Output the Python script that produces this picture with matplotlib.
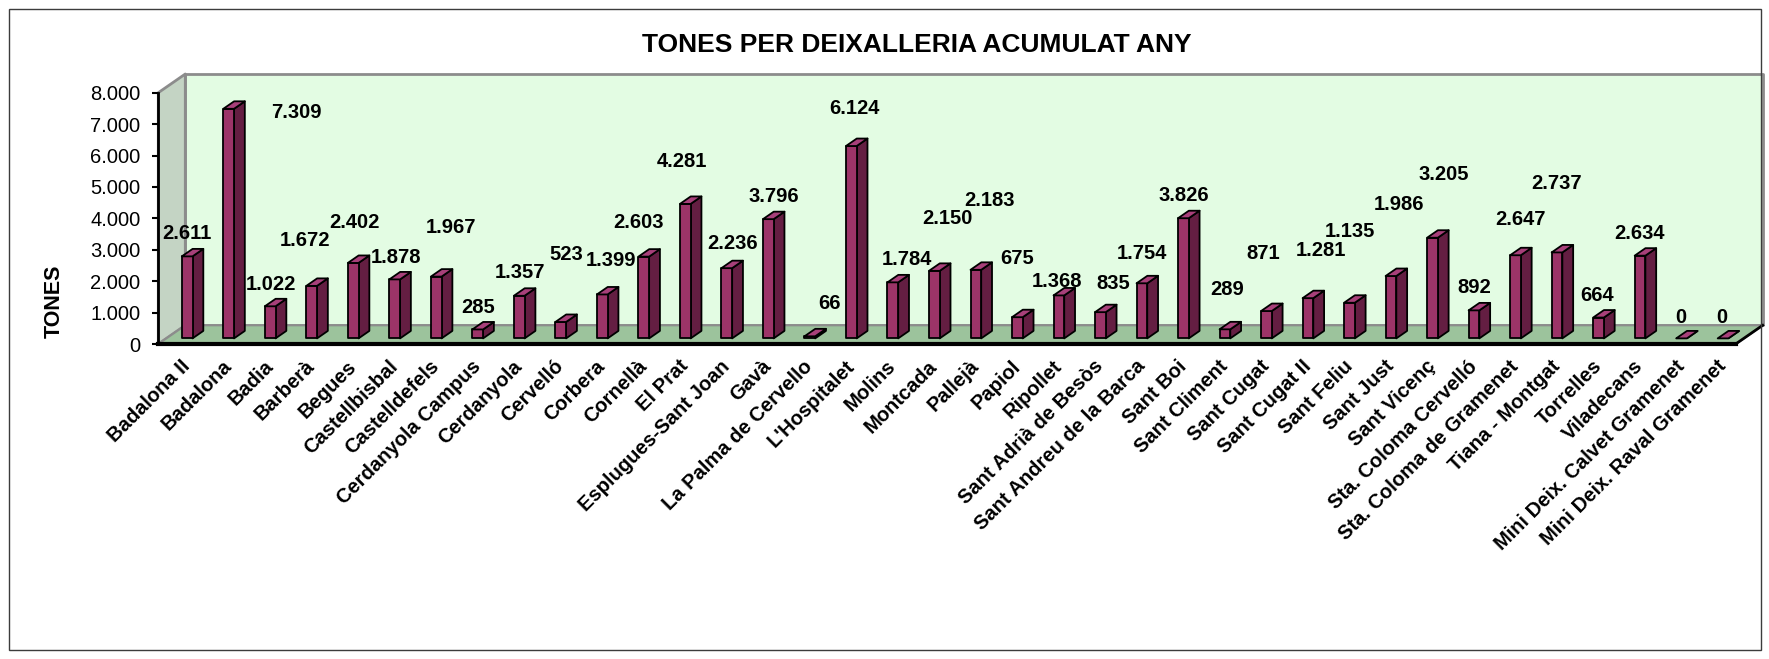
import matplotlib

matplotlib.use("Agg")
import matplotlib.pyplot as plt
from matplotlib.patches import Polygon, Rectangle
from matplotlib.ticker import FuncFormatter

plt.rcParams["font.family"] = ["Liberation Sans", "DejaVu Sans"]

centres = [
    "Badalona II", "Badalona", "Badia", "Barberà", "Begues", "Castellbisbal",
    "Castelldefels", "Cerdanyola Campus", "Cerdanyola", "Cervelló", "Corbera",
    "Cornellà", "El Prat", "Esplugues-Sant Joan", "Gavà", "La Palma de Cervello",
    "L'Hospitalet", "Molins", "Montcada", "Pallejà", "Papiol", "Ripollet",
    "Sant Adrià de Besòs", "Sant Andreu de la Barca", "Sant Boi", "Sant Climent",
    "Sant Cugat", "Sant Cugat II", "Sant Feliu", "Sant Just", "Sant Vicenç",
    "Sta. Coloma Cervelló", "Sta. Coloma de Gramenet", "Tiana - Montgat",
    "Torrelles", "Viladecans", "Mini Deix. Calvet Gramenet",
    "Mini Deix. Raval Gramenet",
]
tones = [
    2611, 7309, 1022, 1672, 2402, 1878, 1967, 285, 1357, 523, 1399, 2603,
    4281, 2236, 3796, 66, 6124, 1784, 2150, 2183, 675, 1368, 835, 1754,
    3826, 289, 871, 1281, 1135, 1986, 3205, 892, 2647, 2737, 664, 2634, 0, 0,
]
y_ticks = [0, 1000, 2000, 3000, 4000, 5000, 6000, 7000, 8000]

# nudges (pixels) of each value label from the top of its column
label_dx = [
    0, 68, 1, -7, 1, 1, 15, 0, 1, 6, 9, -5, -3, 6, 6, 20, 3, 14, 13,
    14, 0, -2, 13, 0, 0, 2, -3, 13, 0, 8, 11, 0, 5, 0, -1, -1, -1, -1,
]
label_dy = [
    23, -4, 22, 45, 40, 22, 49, 22, 23, 67, 34, 34, 42, 25, 23, 33, 38, 23,
    52, 69, 59, 14, 29, 30, 23, 40, 58, 48, 71, 72, 63, 23, 36, 69, 22, 22,
    21, 21,
]

W, H = 1769, 659
fig = plt.figure(figsize=(W / 100, H / 100), dpi=100)
fig.patch.set_facecolor("white")

n = len(centres)
ymax = y_ticks[-1]
ax = fig.add_axes([158.3 / W, (H - 344) / H, (1735.7 - 158.3) / W, (344 - 92.7) / H])
ax.set_xlim(-0.5, n - 0.5)
ax.set_ylim(0, ymax)
ax.patch.set_visible(False)

# depth of the 3-D box, converted from pixels to data units
KX = 27 / (ax.bbox.width / n)
KY = 18.7 / (ax.bbox.height / ymax)


def proj(x, y, z):
    return (x + z * KX, y + z * KY)


def face(pts, fc, ec, lw, z):
    ax.add_patch(Polygon(pts, closed=True, facecolor=fc, edgecolor=ec,
                         linewidth=lw, zorder=z, clip_on=False,
                         joinstyle="round"))


lo, hi = -0.5, n - 0.5
face([proj(lo, 0, 1), proj(hi, 0, 1), proj(hi, ymax, 1), proj(lo, ymax, 1)],
     "#e3fce3", "#8c8c8c", 2, 0.2)
face([proj(lo, 0, 0), proj(lo, 0, 1), proj(lo, ymax, 1), proj(lo, ymax, 0)],
     "#c4d4c4", "#8c8c8c", 2, 0.4)
face([proj(lo, 0, 0), proj(hi, 0, 0), proj(hi, 0, 1), proj(lo, 0, 1)],
     "#9cc39c", "#8c8c8c", 1.5, 0.6)
ax.plot(*zip(proj(hi, 0, 0), proj(hi, 0, 1)), color="black", lw=2,
        zorder=0.7, clip_on=False)

# columns sit in the middle of the depth
half, z0, z1 = 0.129, 0.3, 0.7
for i, v in enumerate(tones):
    x0, x1 = i - half, i + half
    face([proj(x1, 0, z0), proj(x1, 0, z1), proj(x1, v, z1), proj(x1, v, z0)],
         "#641e42", "black", 1.3, 3)
    face([proj(x0, 0, z0), proj(x1, 0, z0), proj(x1, v, z0), proj(x0, v, z0)],
         "#9c3468", "black", 1.3, 3.1)
    face([proj(x0, v, z0), proj(x1, v, z0), proj(x1, v, z1), proj(x0, v, z1)],
         "#a8407a", "black", 1.3, 3.2)
    ax.annotate(f"{v:,}".replace(",", "."), xy=proj(i, v, z0),
                xytext=(label_dx[i], label_dy[i]), textcoords="offset pixels",
                ha="center", va="center", fontsize=14.5, fontweight="bold",
                zorder=6, annotation_clip=False)

for side in ("top", "right"):
    ax.spines[side].set_visible(False)
ax.spines["left"].set_linewidth(2)
ax.spines["bottom"].set_linewidth(3)
ax.spines["left"].set_zorder(2)
ax.spines["bottom"].set_zorder(2)

ax.set_yticks(y_ticks)
ax.yaxis.set_major_formatter(FuncFormatter(lambda v, _: f"{int(v):,}".replace(",", ".")))
ax.tick_params(axis="y", direction="out", length=4.3, width=1.5, pad=8.6,
               labelsize=14.5)

ax.set_xticks([proj(i, 0, z0)[0] for i in range(n)])
ax.set_xticklabels(centres)
ax.tick_params(axis="x", length=0, pad=14)
for lbl in ax.get_xticklabels():
    lbl.set(rotation=45, ha="right", va="center", rotation_mode="anchor",
            fontweight="bold", fontsize=14.5)

fig.text(54 / W, 1 - 301 / H, "TONES", rotation=90, fontsize=15.5,
         fontweight="bold", ha="center", va="center")
fig.text(917 / W, 1 - 45 / H, "TONES PER DEIXALLERIA ACUMULAT ANY",
         fontsize=19, fontweight="bold", ha="center", va="center")

fig.add_artist(Rectangle((9 / W, 1 - 650 / H), (1761 - 9) / W, (650 - 9) / H,
                         transform=fig.transFigure, fill=False,
                         edgecolor="#3c3c3c", linewidth=1))

fig.savefig("out.png", dpi=100)
